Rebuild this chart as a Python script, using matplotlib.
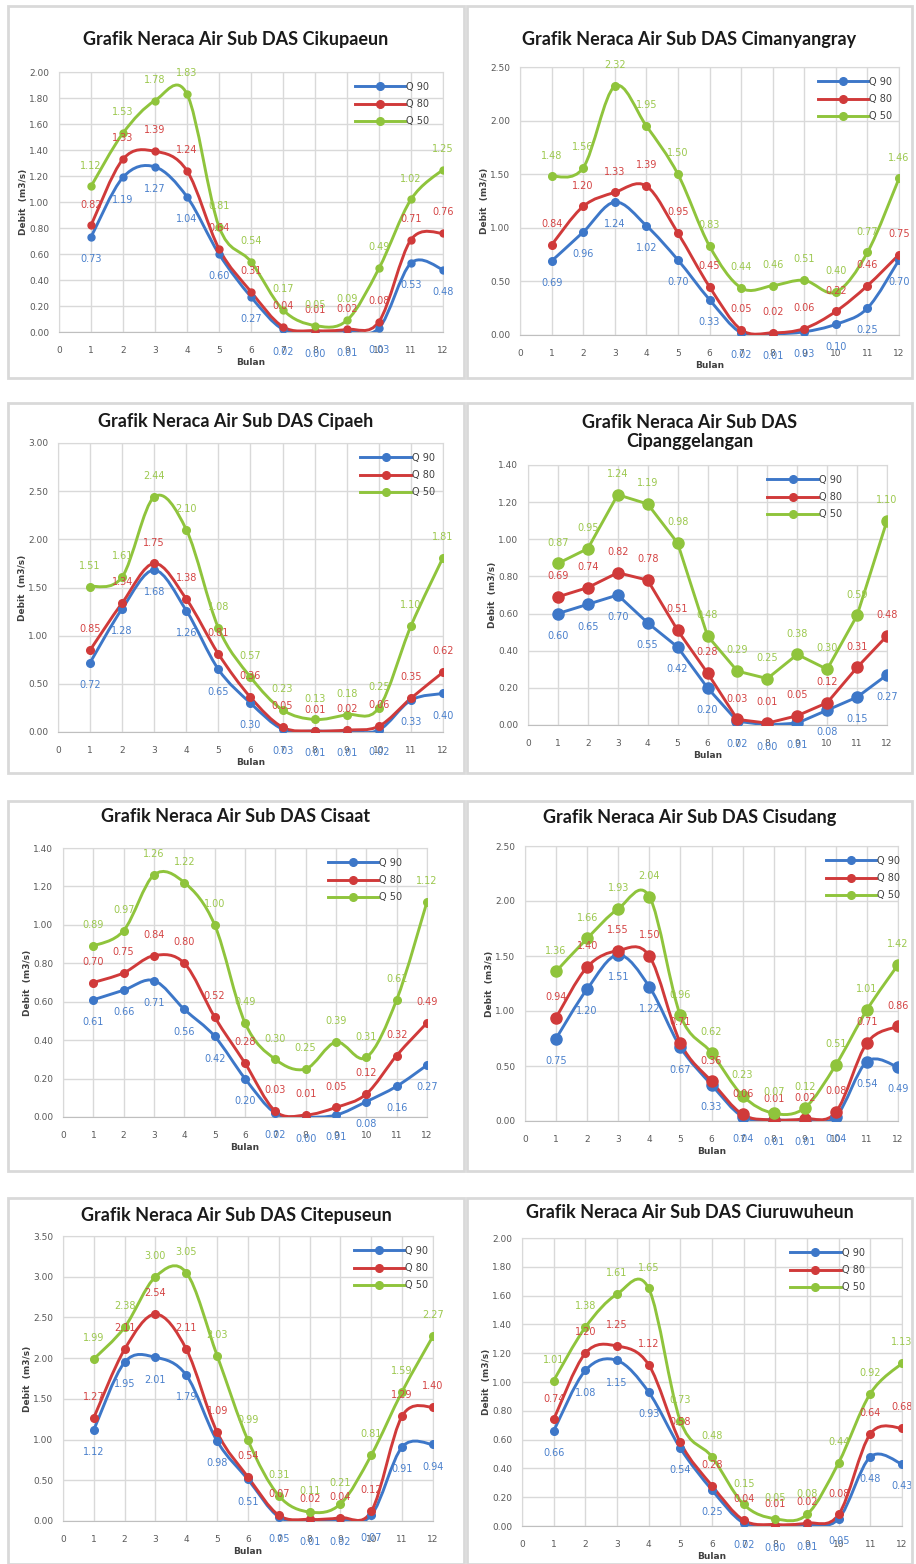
import numpy as np
import matplotlib
matplotlib.use("Agg")
import matplotlib.pyplot as plt
from matplotlib.path import Path
from matplotlib.patches import PathPatch, Rectangle
from matplotlib.lines import Line2D

# monthly discharge (m3/s) per sub-watershed
bulan = list(range(1, 13))
series_names = ["Q 90", "Q 80", "Q 50"]

titles = [
    "Grafik Neraca Air Sub DAS Cikupaeun",
    "Grafik Neraca Air Sub DAS Cimanyangray",
    "Grafik Neraca Air Sub DAS Cipaeh",
    "Grafik Neraca Air Sub DAS\nCipanggelangan",
    "Grafik Neraca Air Sub DAS Cisaat",
    "Grafik Neraca Air Sub DAS Cisudang",
    "Grafik Neraca Air Sub DAS Citepuseun",
    "Grafik Neraca Air Sub DAS Ciuruwuheun",
]

cikupaeun_q90 = [0.73, 1.19, 1.27, 1.04, 0.60, 0.27, 0.02, 0.00, 0.01, 0.03, 0.53, 0.48]
cikupaeun_q80 = [0.82, 1.33, 1.39, 1.24, 0.64, 0.31, 0.04, 0.01, 0.02, 0.08, 0.71, 0.76]
cikupaeun_q50 = [1.12, 1.53, 1.78, 1.83, 0.81, 0.54, 0.17, 0.05, 0.09, 0.49, 1.02, 1.25]

cimanyangray_q90 = [0.69, 0.96, 1.24, 1.02, 0.70, 0.33, 0.02, 0.01, 0.03, 0.10, 0.25, 0.70]
cimanyangray_q80 = [0.84, 1.20, 1.33, 1.39, 0.95, 0.45, 0.05, 0.02, 0.06, 0.22, 0.46, 0.75]
cimanyangray_q50 = [1.48, 1.56, 2.32, 1.95, 1.50, 0.83, 0.44, 0.46, 0.51, 0.40, 0.77, 1.46]

cipaeh_q90 = [0.72, 1.28, 1.68, 1.26, 0.65, 0.30, 0.03, 0.01, 0.01, 0.02, 0.33, 0.40]
cipaeh_q80 = [0.85, 1.34, 1.75, 1.38, 0.81, 0.36, 0.05, 0.01, 0.02, 0.06, 0.35, 0.62]
cipaeh_q50 = [1.51, 1.61, 2.44, 2.10, 1.08, 0.57, 0.23, 0.13, 0.18, 0.25, 1.10, 1.81]

cipanggelangan_q90 = [0.60, 0.65, 0.70, 0.55, 0.42, 0.20, 0.02, 0.00, 0.01, 0.08, 0.15, 0.27]
cipanggelangan_q80 = [0.69, 0.74, 0.82, 0.78, 0.51, 0.28, 0.03, 0.01, 0.05, 0.12, 0.31, 0.48]
cipanggelangan_q50 = [0.87, 0.95, 1.24, 1.19, 0.98, 0.48, 0.29, 0.25, 0.38, 0.30, 0.59, 1.10]

cisaat_q90 = [0.61, 0.66, 0.71, 0.56, 0.42, 0.20, 0.02, 0.00, 0.01, 0.08, 0.16, 0.27]
cisaat_q80 = [0.70, 0.75, 0.84, 0.80, 0.52, 0.28, 0.03, 0.01, 0.05, 0.12, 0.32, 0.49]
cisaat_q50 = [0.89, 0.97, 1.26, 1.22, 1.00, 0.49, 0.30, 0.25, 0.39, 0.31, 0.61, 1.12]

cisudang_q90 = [0.75, 1.20, 1.51, 1.22, 0.67, 0.33, 0.04, 0.01, 0.01, 0.04, 0.54, 0.49]
cisudang_q80 = [0.94, 1.40, 1.55, 1.50, 0.71, 0.36, 0.06, 0.01, 0.02, 0.08, 0.71, 0.86]
cisudang_q50 = [1.36, 1.66, 1.93, 2.04, 0.96, 0.62, 0.23, 0.07, 0.12, 0.51, 1.01, 1.42]

citepuseun_q90 = [1.12, 1.95, 2.01, 1.79, 0.98, 0.51, 0.05, 0.01, 0.02, 0.07, 0.91, 0.94]
citepuseun_q80 = [1.27, 2.11, 2.54, 2.11, 1.09, 0.54, 0.07, 0.02, 0.04, 0.12, 1.29, 1.40]
citepuseun_q50 = [1.99, 2.38, 3.00, 3.05, 2.03, 0.99, 0.31, 0.11, 0.21, 0.81, 1.59, 2.27]

ciuruwuheun_q90 = [0.66, 1.08, 1.15, 0.93, 0.54, 0.25, 0.02, 0.00, 0.01, 0.05, 0.48, 0.43]
ciuruwuheun_q80 = [0.74, 1.20, 1.25, 1.12, 0.58, 0.28, 0.04, 0.01, 0.02, 0.08, 0.64, 0.68]
ciuruwuheun_q50 = [1.01, 1.38, 1.61, 1.65, 0.73, 0.48, 0.15, 0.05, 0.08, 0.44, 0.92, 1.13]

all_series = [
    (cikupaeun_q90, cikupaeun_q80, cikupaeun_q50),
    (cimanyangray_q90, cimanyangray_q80, cimanyangray_q50),
    (cipaeh_q90, cipaeh_q80, cipaeh_q50),
    (cipanggelangan_q90, cipanggelangan_q80, cipanggelangan_q50),
    (cisaat_q90, cisaat_q80, cisaat_q50),
    (cisudang_q90, cisudang_q80, cisudang_q50),
    (citepuseun_q90, citepuseun_q80, citepuseun_q50),
    (ciuruwuheun_q90, ciuruwuheun_q80, ciuruwuheun_q50),
]

y_max = [2.0, 2.5, 3.0, 1.4, 1.4, 2.5, 3.5, 2.0]
y_step = [0.2, 0.5, 0.5, 0.2, 0.2, 0.5, 0.5, 0.2]

# layout in pixels (x0, y0, x1, y1 from top-left)
W, H = 916, 1564
panels = [(8, 6, 464, 378), (467, 6, 912, 378),
          (8, 403, 464, 773), (467, 403, 912, 773),
          (8, 801, 464, 1171), (467, 801, 912, 1171),
          (8, 1198, 464, 1564), (467, 1198, 912, 1564)]
axes_px = [(59, 72, 443, 332), (520, 67, 899, 335),
           (58, 443, 443, 732), (528, 465, 887, 725),
           (63, 848, 427, 1117), (525, 846, 898, 1121),
           (63, 1236, 433, 1521), (522, 1238, 902, 1526)]
title_y = [39, 40, 421, 432, 817, 817, 1215, 1213]
legend_x = [0.745, 0.76, 0.76, 0.64, 0.70, 0.78, 0.76, 0.68]
smooth = [True, True, True, False, True, True, True, True]
marker_size = [5, 5.5, 5.5, 8, 5.5, 8, 5.5, 5.5]

colors = ["#3d77c8", "#d03a3a", "#8fc43c"]
label_colors = ["#4a80cc", "#d44444", "#9cc84e"]
label_dy = [-16, 15, 15]


def smooth_path(x, y):
    # cubic bezier through every point, Catmull-Rom style control points
    pts = np.column_stack([x, y]).astype(float)
    n = len(pts)
    verts = [pts[0]]
    codes = [Path.MOVETO]
    for i in range(n - 1):
        p0 = pts[max(i - 1, 0)]
        p1 = pts[i]
        p2 = pts[i + 1]
        p3 = pts[min(i + 2, n - 1)]
        c1 = p1 + (p2 - p0) / 6.0
        c2 = p2 - (p3 - p1) / 6.0
        verts += [c1, c2, p2]
        codes += [Path.CURVE4] * 3
    return Path(verts, codes)


fig = plt.figure(figsize=(W / 100, H / 100), dpi=100)
fig.patch.set_facecolor("white")

for k in range(8):
    px0, py0, px1, py1 = panels[k]
    fig.patches.append(Rectangle((px0 / W, 1 - py1 / H), (px1 - px0) / W, (py1 - py0) / H,
                                 transform=fig.transFigure, fill=False,
                                 edgecolor="#d9d9d9", lw=2))
    fig.text((px0 + px1) / 2 / W, 1 - title_y[k] / H, titles[k], ha="center", va="center",
             fontsize=13, fontweight="bold", family="Lato", color="#1a1a1a",
             linespacing=1.2)

    ax0, ay0, ax1, ay1 = axes_px[k]
    ax = fig.add_axes([ax0 / W, 1 - ay1 / H, (ax1 - ax0) / W, (ay1 - ay0) / H])
    ax.set_xlim(0, 12)
    ax.set_ylim(0, y_max[k])
    ax.set_xticks(range(0, 13))
    yt = np.arange(0, y_max[k] + 1e-9, y_step[k])
    ax.set_yticks(yt)
    ax.set_yticklabels([f"{v:.2f}" for v in yt])
    ax.grid(True, color="#d9d9d9", lw=1)
    ax.set_axisbelow(True)
    for s in ["left", "right", "top"]:
        ax.spines[s].set_color("#d9d9d9")
    ax.spines["bottom"].set_color("#bfbfbf")
    ax.tick_params(length=0, labelsize=6.5, colors="#595959", pad=7)
    ax.tick_params(axis="x", pad=10)
    ax.set_xlabel("Bulan", fontsize=6.5, fontweight="bold", color="#404040", labelpad=2)
    ax.set_ylabel("Debit  (m3/s)", fontsize=6.5, fontweight="bold", color="#404040", labelpad=1)

    handles = []
    for j in range(3):
        vals = all_series[k][j]
        if smooth[k]:
            ax.add_patch(PathPatch(smooth_path(bulan, vals), fill=False,
                                   edgecolor=colors[j], lw=2.1, zorder=3))
            ax.plot(bulan, vals, ls="none", marker="o", ms=marker_size[k],
                    color=colors[j], zorder=4)
        else:
            ax.plot(bulan, vals, lw=2.1, marker="o", ms=marker_size[k],
                    color=colors[j], zorder=4)
        for xv, v in zip(bulan, vals):
            ax.annotate(f"{v:.2f}", (xv, v), xytext=(0, label_dy[j]),
                        textcoords="offset points", ha="center", va="center",
                        fontsize=7, color=label_colors[j], annotation_clip=False,
                        zorder=5)
        handles.append(Line2D([0], [0], color=colors[j], lw=2.1, marker="o", ms=5.5))

    ax.legend(handles, series_names, loc="upper left", bbox_to_anchor=(legend_x[k], 1.0),
              frameon=False, fontsize=7, handlelength=5.2, handletextpad=0.1,
              labelspacing=0.75, borderpad=0.5, labelcolor="#404040")

fig.savefig("out.png", dpi=100)
